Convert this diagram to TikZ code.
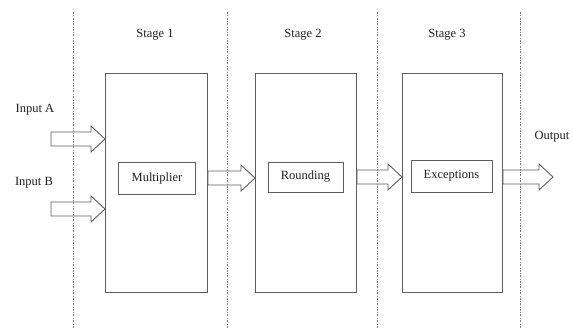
\documentclass[tikz,border=0pt]{standalone}
\usepackage{fontspec}
\setmainfont{Liberation Serif}
\usetikzlibrary{calc}
\definecolor{ln}{HTML}{5E5E5E}
\definecolor{tx}{HTML}{1E1E1E}
\tikzset{
  stagebox/.style={draw=ln, line width=0.8pt, fill=white},
  unitbox/.style={draw=ln, line width=0.8pt, fill=white, font=\fontsize{12.5}{14}\selectfont, text=tx, inner sep=0pt},
  lbl/.style={font=\fontsize{12.5}{14}\selectfont, text=tx, inner sep=0pt},
  divider/.style={draw=gray, line width=0.7pt, dash pattern=on 2pt off 1.5pt on 0.6pt off 1.5pt},
  fat/.style={draw=ln, line width=0.9pt, fill=white, line join=miter}
}
\newcommand\fatarrow[2]{%
  \draw[fat] let \p1=(#1), \p2=(#2) in
    (\x1,\y1+7pt) -- (\x2-14pt,\y1+7pt) -- (\x2-14pt,\y1+13pt) -- (\x2,\y1)
    -- (\x2-14pt,\y1-13pt) -- (\x2-14pt,\y1-7pt) -- (\x1,\y1-7pt) -- cycle;}
\begin{document}
\begin{tikzpicture}[x=1pt,y=-1pt]
\useasboundingbox (0,0) rectangle (572,329);
% stage dividers
\foreach \n/\x in {d0/73,d1/227,d2/377,d3/520}{
  \coordinate (\n t) at (\x,12);
  \coordinate (\n b) at (\x,329);
}
% stage boxes
\node[stagebox, minimum width=102pt, minimum height=219pt, anchor=north west] (s1) at (105,73) {};
\node[stagebox, minimum width=101pt, minimum height=219pt, anchor=north west] (s2) at (255,73) {};
\node[stagebox, minimum width=100pt, minimum height=219pt, anchor=north west] (s3) at (402,73) {};
% inner units
\node[unitbox, minimum width=77pt, minimum height=32pt] (mul) at (157,178) {Multiplier};
\node[unitbox, minimum width=75pt, minimum height=30pt] (rnd) at (305.5,177) {Rounding};
\node[unitbox, minimum width=81pt, minimum height=32pt] (exc) at (451.5,176) {Exceptions};
% labels
\node[lbl] (st1) at (155,35) {Stage 1};
\node[lbl] (st2) at (303,35) {Stage 2};
\node[lbl] (st3) at (447,35) {Stage 3};
\node[lbl] (ia) at (35,110) {Input A};
\node[lbl] (ib) at (34,183) {Input B};
\node[lbl] (out) at (552,137) {Output};
% arrow end points
\coordinate (aS) at (51,139);
\coordinate (bS) at (51,209);
\coordinate (oE) at (553,177);
% fat arrows
\fatarrow{aS}{s1.west |- aS}
\fatarrow{bS}{s1.west |- bS}
\fatarrow{s1.east |- mul}{s2.west |- mul}
\fatarrow{s2.east |- rnd}{s3.west |- rnd}
\fatarrow{s3.east |- oE}{oE}
% dividers on top
\foreach \n in {d0,d1,d2,d3}{ \draw[divider] (\n t) -- (\n b); }
\end{tikzpicture}
\end{document}
